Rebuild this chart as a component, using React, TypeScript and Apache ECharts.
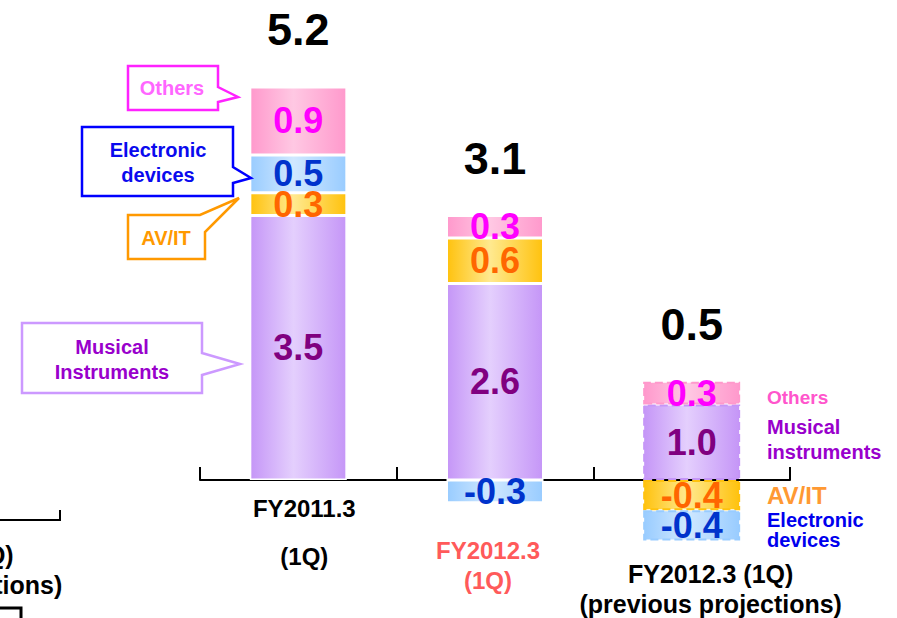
import React, { useEffect, useRef } from "react";
import * as echarts from "echarts";

// ---------- data ----------
const categoryLines: string[][] = [
  ["FY2011.3", "(1Q)"],
  ["FY2012.3", "(1Q)"],
  ["FY2012.3 (1Q)", "(previous projections)"],
];
const categories = categoryLines.map((l) => l.join(" "));
const musical = [3.5, 2.6, 1.0];
const avit = [0.3, 0.6, -0.4];
const electronic = [0.5, -0.3, -0.4];
const others = [0.9, 0.3, 0.3];
const totals = [5.2, 3.1, 0.5];

const FONT = "'Liberation Sans', Arial, sans-serif";

const COLORS = {
  musical: { edge: "#C596F7", light: "#E4CFFD", text: "#800080" },
  avit: { edge: "#FFC20E", light: "#FFE98F", text: "#FF6600" },
  electronic: { edge: "#99CCFF", light: "#D0E8FF", text: "#0033CC" },
  others: { edge: "#FF99CC", light: "#FFC8E3", text: "#FF00FF" },
};

function grad(c: { edge: string; light: string }) {
  return {
    type: "linear",
    x: 0,
    y: 0,
    x2: 1,
    y2: 0,
    colorStops: [
      { offset: 0, color: c.edge },
      { offset: 0.45, color: c.light },
      { offset: 1, color: c.edge },
    ],
  };
}

export default function App() {
  const ref = useRef<HTMLDivElement>(null);

  useEffect(() => {
    if (!ref.current) return;
    const chart = echarts.init(ref.current, undefined, { renderer: "svg" });

    const defs = [
      { name: "Musical instruments", data: musical, c: COLORS.musical },
      { name: "AV/IT", data: avit, c: COLORS.avit },
      { name: "Electronic devices", data: electronic, c: COLORS.electronic },
      { name: "Others", data: others, c: COLORS.others },
    ];

    const posSums = categories.map((_, i) =>
      defs.reduce((s, d) => s + (d.data[i] > 0 ? d.data[i] : 0), 0)
    );

    const barSeries = defs.map((d) => ({
      type: "bar",
      name: d.name,
      stack: "total",
      barWidth: 97,
      silent: true,
      itemStyle: { color: grad(d.c), borderColor: "#fff", borderWidth: 1.5 },
      data: d.data.map((v, i) =>
        i === 2
          ? {
              value: v,
              itemStyle: {
                borderType: "dashed",
                borderColor: d.c.edge,
                borderWidth: 2,
              },
            }
          : { value: v }
      ),
      label: {
        show: true,
        position: "inside",
        formatter: (p: any) => Number(p.value).toFixed(1),
        fontSize: 36,
        fontWeight: "bold",
        fontFamily: FONT,
        color: d.c.text,
      },
    }));

    const totalSeries = {
      type: "scatter",
      silent: true,
      symbolSize: 1,
      itemStyle: { color: "#ffffff", opacity: 1 },
      data: posSums.map((v, i) => [i, v]),
      label: {
        show: true,
        position: "top",
        distance: 34,
        formatter: (p: any) => totals[p.dataIndex].toFixed(1),
        fontSize: 45,
        fontWeight: "bold",
        fontFamily: FONT,
        color: "#000000",
        opacity: 1,
      },
      z: 10,
    };

    const callouts = [
      {
        points: [[128, 66], [218, 66], [218, 87], [238, 97], [218, 102], [218, 110], [128, 110]],
        stroke: "#FF22FF",
        text: "Others",
        color: "#FF66FF",
        tx: 172,
        ty: 88,
      },
      {
        points: [[82, 127], [233, 127], [233, 167], [251, 178], [233, 183], [233, 196], [82, 196]],
        stroke: "#0000FF",
        text: "Electronic\ndevices",
        color: "#0A0AEE",
        tx: 158,
        ty: 162,
      },
      {
        points: [[128, 215], [200, 215], [239, 198], [205, 232], [205, 259], [128, 259]],
        stroke: "#FF9900",
        text: "AV/IT",
        color: "#FF9900",
        tx: 166,
        ty: 238,
      },
      {
        points: [[22, 323], [202, 323], [202, 353], [240, 364], [202, 375], [202, 393], [22, 393]],
        stroke: "#CC99FF",
        text: "Musical\nInstruments",
        color: "#9900CC",
        tx: 112,
        ty: 359,
      },
    ];

    const graphics: any[] = [];
    callouts.forEach((c) => {
      graphics.push({
        type: "polygon",
        shape: { points: c.points },
        style: { fill: "#fff", stroke: c.stroke, lineWidth: 2.5 },
        z: 100,
      });
      graphics.push({
        type: "text",
        x: c.tx,
        y: c.ty,
        style: {
          text: c.text,
          fill: c.color,
          font: `bold 20px ${FONT}`,
          lineHeight: 25,
          align: "center",
          verticalAlign: "middle",
          textAlign: "center",
          textVerticalAlign: "middle",
        },
        z: 101,
      });
    });

    const sideLabels = [
      { text: "Others", y: 397, color: "#FF55CC", size: 19, lh: 22 },
      { text: "Musical\ninstruments", y: 439, color: "#9900CC", size: 20, lh: 25 },
      { text: "AV/IT", y: 495, color: "#FF9933", size: 24, lh: 26 },
      { text: "Electronic\ndevices", y: 530, color: "#0000EE", size: 20, lh: 20 },
    ];
    sideLabels.forEach((s) => {
      graphics.push({
        type: "text",
        x: 767,
        y: s.y,
        style: {
          text: s.text,
          fill: s.color,
          font: `bold ${s.size}px ${FONT}`,
          lineHeight: s.lh,
          align: "left",
          verticalAlign: "middle",
          textAlign: "left",
          textVerticalAlign: "middle",
        },
        z: 101,
      });
    });

    // fragments of the neighbouring (cropped) chart on the left
    graphics.push({
      type: "polyline",
      shape: { points: [[0, 520], [60, 520], [60, 510]] },
      style: { stroke: "#000", lineWidth: 2, fill: null },
    });
    graphics.push({
      type: "text",
      x: -69,
      y: 570,
      style: {
        text: "FY2012.3 (1Q)\n(previous projections)",
        fill: "#000",
        font: `bold 25px ${FONT}`,
        lineHeight: 30,
        align: "center",
        verticalAlign: "middle",
        textAlign: "center",
        textVerticalAlign: "middle",
      },
    });
    graphics.push({
      type: "polyline",
      shape: { points: [[0, 608], [21, 608], [21, 620]] },
      style: { stroke: "#000", lineWidth: 3, fill: null },
    });

    const option: any = {
      animation: false,
      grid: {
        left: 200,
        right: 107,
        top: 64.2,
        bottom: 62.4,
        containLabel: false,
        outerBoundsMode: "none",
      },
      xAxis: {
        type: "category",
        data: categories,
        axisLine: { onZero: true, lineStyle: { color: "#000", width: 2 } },
        axisTick: { show: true, inside: true, length: 13, lineStyle: { color: "#000", width: 2 } },
        axisLabel: {
          interval: 0,
          margin: 13 - 75.6,
          formatter: (_v: string, idx: number) => {
            const l = categoryLines[idx];
            if (idx === 0) return `{k0|${l[0]}}\n{g18| }\n{k0|${l[1]}}`;
            if (idx === 1) return `{g42| }\n{r1|${l[0]}}\n{r1|${l[1]}}`;
            return `{g66| }\n{k2|${l[0]}}\n{k2|${l[1]}}`;
          },
          rich: {
            k0: { fontSize: 24, fontWeight: "bold", fontFamily: FONT, color: "#000", lineHeight: 30, padding: [0, 0, 0, 12] },
            r1: { fontSize: 24, fontWeight: "bold", fontFamily: FONT, color: "#FF5A5A", lineHeight: 30, padding: [0, 14, 0, 0] },
            k2: { fontSize: 25, fontWeight: "bold", fontFamily: FONT, color: "#000", lineHeight: 30, padding: [0, 0, 0, 38] },
            g18: { fontSize: 1, lineHeight: 18 },
            g42: { fontSize: 1, lineHeight: 42 },
            g66: { fontSize: 1, lineHeight: 66 },
          },
        },
        splitLine: { show: false },
      },
      yAxis: {
        type: "value",
        min: -1,
        max: 5.5,
        show: false,
        splitLine: { show: false },
      },
      series: [...barSeries, totalSeries],
      graphic: graphics,
    };

    chart.setOption(option);
    return () => chart.dispose();
  }, []);

  return (
    <div
      ref={ref}
      style={{ position: "absolute", left: 0, top: 0, width: 897, height: 618, background: "#fff" }}
    />
  );
}
